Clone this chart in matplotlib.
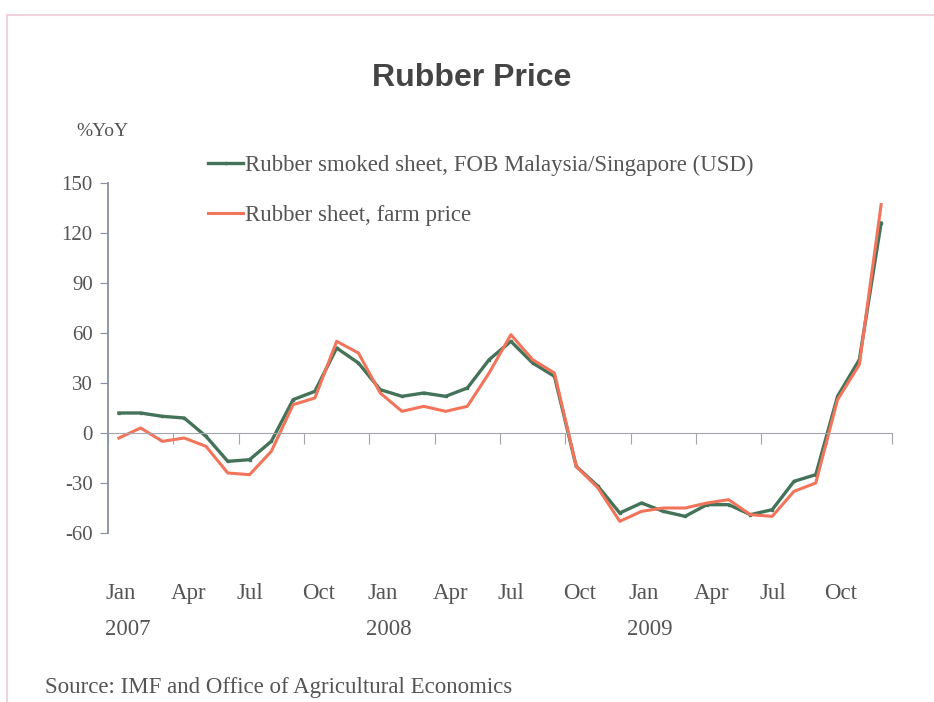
import matplotlib
matplotlib.use("Agg")
import matplotlib.pyplot as plt
from matplotlib.patches import Rectangle

# monthly %YoY, Jan 2007 .. Dec 2009
months = list(range(36))
smoked_sheet = [12, 12, 10, 9, -2, -17, -16, -5, 20, 25, 51, 42,
                26, 22, 24, 22, 27, 44, 55, 42, 34, -20, -32, -48,
                -42, -47, -50, -43, -43, -49, -46, -29, -25, 22, 44, 126]
farm_price = [-3, 3, -5, -3, -8, -24, -25, -11, 17, 21, 55, 48,
              24, 13, 16, 13, 16, 36, 59, 44, 36, -20, -33, -53,
              -47, -45, -45, -42, -40, -49, -50, -35, -30, 20, 41, 137]

quarter_labels = ["Jan", "Apr", "Jul", "Oct"] * 3
year_labels = ["2007", "", "", "", "2008", "", "", "", "2009", "", "", ""]
y_ticks = [-60, -30, 0, 30, 60, 90, 120, 150]

SERIF = "Liberation Serif"
TEXT = "#555555"
GREEN = "#44735a"
RED = "#f2745a"
W, H = 934, 702

fig = plt.figure(figsize=(W / 100, H / 100), dpi=100)
fig.patches.append(Rectangle((7 / W, -0.1), 1.5, 1 - 15 / H + 0.1, transform=fig.transFigure,
                             fill=False, edgecolor="#f0d3dd", linewidth=1.5))

ax = fig.add_axes([108 / W, 1 - 533 / H, 784 / W, 350 / H])
ax.plot(months, smoked_sheet, color=GREEN, linewidth=2.4, marker="s", markersize=2,
        label="Rubber smoked sheet, FOB Malaysia/Singapore (USD)")
ax.plot(months, farm_price, color=RED, linewidth=2.2, label="Rubber sheet, farm price")

ax.set_xlim(-0.5, 35.5)
ax.set_ylim(-60, 150)

for s in ["top", "right"]:
    ax.spines[s].set_visible(False)
ax.spines["bottom"].set_position(("data", 0))
ax.spines["bottom"].set_color("#a4a4ac")
ax.spines["left"].set_color("#8a8fa3")
ax.spines["left"].set_linewidth(1.3)

ax.set_xticks([q * 3 - 0.5 for q in range(13)])
ax.set_xticklabels([])
ax.tick_params(axis="x", direction="out", length=8, color="#a4a4ac")
ax.set_yticks(y_ticks)
ax.set_yticklabels([str(v) for v in y_ticks], fontfamily=SERIF, fontsize=15, color=TEXT)
ax.tick_params(axis="y", direction="out", length=6, color="#8a8fa3", pad=5)

xt = ax.get_xaxis_transform()
for k, (q, yr) in enumerate(zip(quarter_labels, year_labels)):
    ax.text(k * 3 - 0.6, -0.172, q, transform=xt, ha="left", va="center",
            fontfamily=SERIF, fontsize=16.5, color=TEXT)
    if yr:
        ax.text(k * 3 - 0.65, -0.275, yr, transform=xt, ha="left", va="center",
                fontfamily=SERIF, fontsize=16.5, color=TEXT)

fig.text(472 / W, 1 - 78 / H, "Rubber Price", ha="center", va="center",
         fontfamily="Liberation Sans", fontweight="bold", fontsize=23, color="#444444")
fig.text(102 / W, 1 - 132 / H, "%YoY", ha="center", va="center",
         fontfamily=SERIF, fontsize=14, color=TEXT)
fig.text(45 / W, 1 - 687 / H, "Source: IMF and Office of Agricultural Economics",
         ha="left", va="center", fontfamily=SERIF, fontsize=16.5, color=TEXT)

leg = fig.legend(loc="upper left", bbox_to_anchor=(197 / W, 1 - 143 / H), frameon=False,
                 handlelength=1.5, handletextpad=0.1, labelspacing=1.3, borderpad=0,
                 prop={"family": SERIF, "size": 16.5})
for t in leg.get_texts():
    t.set_color(TEXT)

fig.savefig("out.png", dpi=100)
